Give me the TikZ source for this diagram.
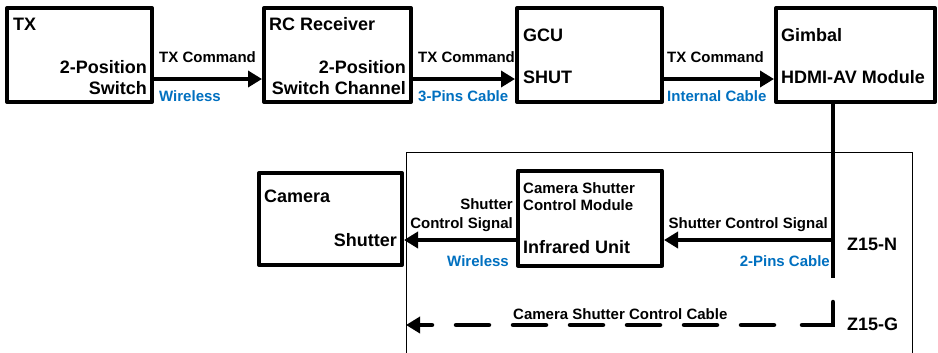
\documentclass[tikz,border=0pt]{standalone}
\usepackage{fontspec}
\setmainfont{Liberation Sans}
\usetikzlibrary{arrows.meta}
\definecolor{lblue}{RGB}{0,112,192}
\begin{document}
\begin{tikzpicture}[x=1bp,y=-1bp,
  box/.style={draw,line width=4bp,line join=round,inner sep=0pt,minimum width=#1,minimum height=94bp,rectangle},
  big/.style={inner sep=0pt,font=\fontsize{18bp}{21bp}\selectfont\bfseries},
  sml/.style={inner sep=0pt,font=\fontsize{15bp}{18bp}\selectfont\bfseries},
  blu/.style={sml,text=lblue},
  conn/.style={line width=4.5bp,-{Triangle[length=14bp,width=16bp]}},
  plain/.style={line width=4.5bp},
  dashconn/.style={line width=4.5bp,line cap=round,dash pattern=on 54bp off 28bp on 33bp off 24bp on 33bp off 24bp on 33bp off 24bp on 33bp off 24bp on 33bp off 24bp on 33bp off 24bp on 33bp off 24bp on 33bp off 24bp,-{Triangle[length=14bp,width=16bp]}}
]
\useasboundingbox (0,0) rectangle (938,352);
\clip (0,0) rectangle (938,352);
\fill[white] (0,0) rectangle (938,352);
% frame
\draw[line width=1bp] (406,152) rectangle (912,380);
% boxes
\node[box=145bp] (tx) at (79.5,55) {};
\node[box=147bp] (rc) at (337.5,55) {};
\node[box=145bp] (gcu) at (589.5,55) {};
\node[box=159bp] (gim) at (855.5,55) {};
\node[box=143bp,minimum height=92bp] (cam) at (330.5,219) {};
\node[box=144bp,minimum height=95bp] (csm) at (590,218) {};
% box texts
\node[big,anchor=base west] (t1) at (13,30) {TX};
\node[big,anchor=base east] (t2) at (147,73) {2-Position};
\node[big,anchor=base east] (t3) at (147,94) {Switch};
\node[big,anchor=base west] (r1) at (269,30) {RC Receiver};
\node[big,anchor=base east] (r2) at (406,73) {2-Position};
\node[big,anchor=base east] (r3) at (406,94) {Switch Channel};
\node[big,anchor=base west] (g1) at (523,41) {GCU};
\node[big,anchor=base west] (g2) at (523,83) {SHUT};
\node[big,anchor=base west] (m1) at (781,41) {Gimbal};
\node[big,anchor=base west] (m2) at (781,83) {HDMI-AV Module};
\node[big,anchor=base west] (c1) at (264,202) {Camera};
\node[big,anchor=base east] (c2) at (397,246) {Shutter};
\node[sml,anchor=base west] (s1) at (523,193) {Camera Shutter};
\node[sml,anchor=base west] (s2) at (523,210) {Control Module};
\node[big,anchor=base west] (s3) at (523,253) {Infrared Unit};
\node[big,anchor=base west] (zn) at (847,250) {Z15-N};
\node[big,anchor=base west] (zg) at (847,330) {Z15-G};
% connector labels
\node[sml,anchor=base west] (l1) at (159,62) {TX Command};
\node[blu,anchor=base west] (b1) at (159,101) {Wireless};
\node[sml,anchor=base west] (l2) at (418,62) {TX Command};
\node[blu,anchor=base west] (b2) at (418,101) {3-Pins Cable};
\node[sml,anchor=base west] (l3) at (667,62) {TX Command};
\node[blu,anchor=base west] (b3) at (667,101) {Internal Cable};
\node[sml,anchor=base east] (l4) at (828,228) {Shutter Control Signal};
\node[blu,anchor=base east] (b4) at (830,266) {2-Pins Cable};
\node[sml,anchor=base east] (l5) at (513,209) {Shutter};
\node[sml,anchor=base east] (l6) at (513,228) {Control Signal};
\node[blu,anchor=base east] (b5) at (509,266) {Wireless};
\node[sml,anchor=base west] (l7) at (513,319) {Camera Shutter Control Cable};
% coordinates
\coordinate (row1) at (0,79);
\coordinate (row2) at (0,240);
\coordinate (vend) at (833,278);
\coordinate (d1) at (833,302);
\coordinate (d2) at (833,325);
\coordinate (d3) at (406,325);
% connectors
\draw[conn] (tx.east |- row1) -- (rc.west |- row1);
\draw[conn] (rc.east |- row1) -- (gcu.west |- row1);
\draw[conn] (gcu.east |- row1) -- (gim.west |- row1);
\draw[plain] (gim.south -| vend) -- (vend);
\draw[conn] (vend |- row2) -- (csm.east |- row2);
\draw[conn] (csm.west |- row2) -- (cam.east |- row2);
\draw[dashconn] (d1) -- (d2) -- (d3);
\end{tikzpicture}
\end{document}
